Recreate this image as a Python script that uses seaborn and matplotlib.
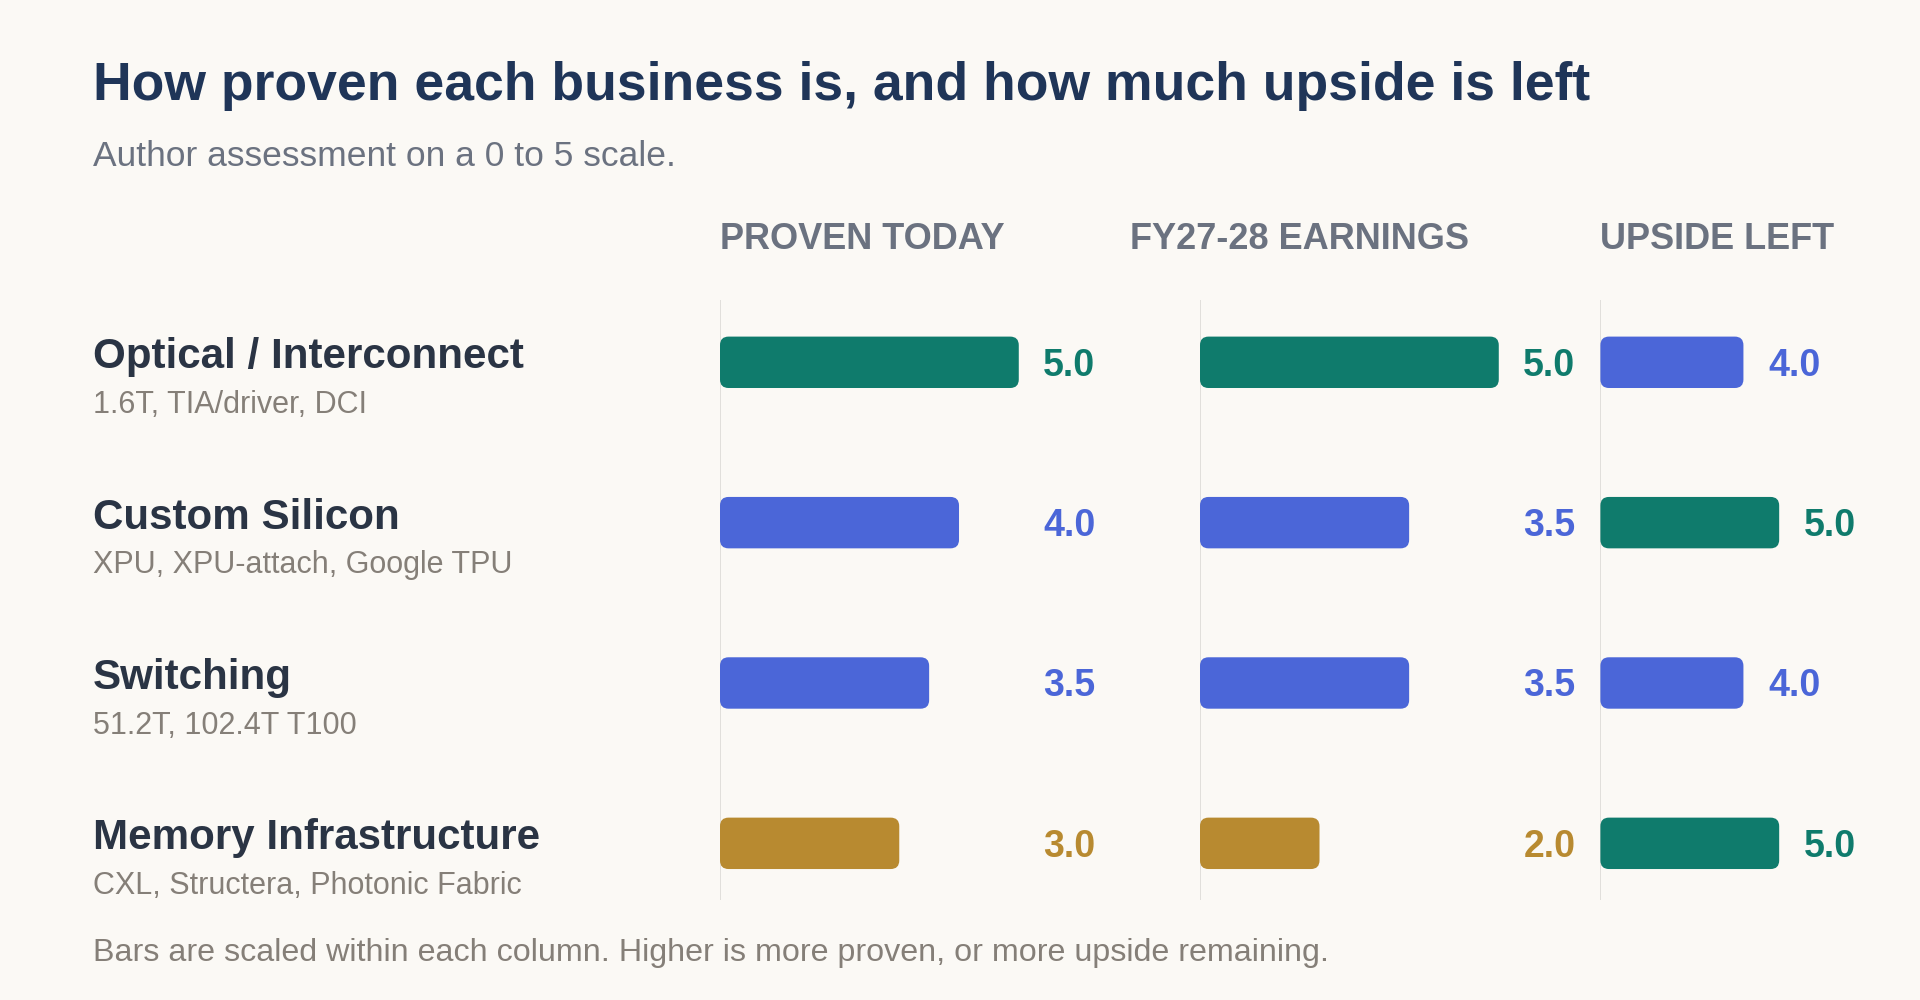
import matplotlib.pyplot as plt
import seaborn as sns
import pandas as pd
from matplotlib.patches import FancyBboxPatch

segments = ["Optical / Interconnect", "Custom Silicon", "Switching", "Memory Infrastructure"]
details = ["1.6T, TIA/driver, DCI", "XPU, XPU-attach, Google TPU",
           "51.2T, 102.4T T100", "CXL, Structera, Photonic Fabric"]
columns = ["PROVEN TODAY", "FY27-28 EARNINGS", "UPSIDE LEFT"]
proven_today = [5.0, 4.0, 3.5, 3.0]
fy27_28_earnings = [5.0, 3.5, 3.5, 2.0]
upside_left = [4.0, 5.0, 4.0, 5.0]

BG = "#fbf9f5"
GREEN, BLUE, GOLD = "#0f7b6c", "#4b66d8", "#b88a30"

def colour(v):
    if v >= 5:
        return GREEN
    if v >= 3.5:
        return BLUE
    return GOLD

W, H = 1568, 817
def fx(x): return x / W
def fy(y): return 1 - y / H

sns.set_theme(style="white")
plt.rcParams['font.family'] = ['Liberation Sans', 'DejaVu Sans']
fig = plt.figure(figsize=(19.2, 10), dpi=100, facecolor=BG)

fig.text(fx(76), fy(70), "How proven each business is, and how much upside is left",
         fontsize=38.5, fontweight="bold", color="#1f3558", va="center")
fig.text(fx(76), fy(128), "Author assessment on a 0 to 5 scale.", fontsize=25.5,
         color="#6b7280", va="center")
fig.text(fx(76), fy(779), "Bars are scaled within each column. Higher is more proven, or more upside remaining.",
         fontsize=23.2, color="#857f78", va="center")

row_y = [296, 427, 558, 689]
for name, det, y in zip(segments, details, row_y):
    fig.text(fx(76), fy(y - 4), name, fontsize=30.3, fontweight="bold", color="#2a3444", va="center")
    fig.text(fx(76), fy(y + 35), det, fontsize=22, color="#857f78", va="center")

# (axis left px, axis right px, px per unit, header x, fixed label x or None)
layout = [(588, 930, 48.8, 588, 852), (980, 1300, 48.8, 923, 1244), (1307, 1560, 29.2, 1307, None)]
series = [proven_today, fy27_28_earnings, upside_left]
top, bot = 245, 735
bar_px = 42

for (x0, x1, ppu, hx, lx), title, vals in zip(layout, columns, series):
    fig.text(fx(hx), fy(196), title, fontsize=26, fontweight="bold", color="#6b7280", va="center")
    ax = fig.add_axes([fx(x0), fy(bot), fx(x1 - x0), (bot - top) / H])
    ax.set_facecolor("none")
    df = pd.DataFrame({"segment": segments, "value": vals})
    sns.barplot(data=df, y="segment", x="value", orient="h", ax=ax,
                width=bar_px / 131, color=GREEN)
    ax.set_xlim(0, (x1 - x0) / ppu)
    ax.set_ylim(3 + 46 / 131, -51 / 131)
    ax.axis("off")
    ax.axvline(0, color="#dcdad6", lw=1.2, zorder=0)
    ypu = 131  # px per y unit
    for p, v in zip(list(ax.patches), vals):
        xb, yb, wb, hb = p.get_x(), p.get_y(), p.get_width(), p.get_height()
        p.set_visible(False)
        r = 7 / ppu
        box = FancyBboxPatch((xb, yb), wb, hb, boxstyle=f"round,pad=0,rounding_size={r}",
                             mutation_aspect=ppu / ypu, fc=colour(v), ec="none")
        ax.add_patch(box)
        tx = (lx - x0) / ppu if lx is not None else wb + 20 / ppu
        ax.text(tx, yb + hb / 2 + 0.02, f"{v:.1f}", color=colour(v), fontsize=27,
                fontweight="bold", va="center", ha="left")

fig.savefig("out.png", facecolor=BG)
